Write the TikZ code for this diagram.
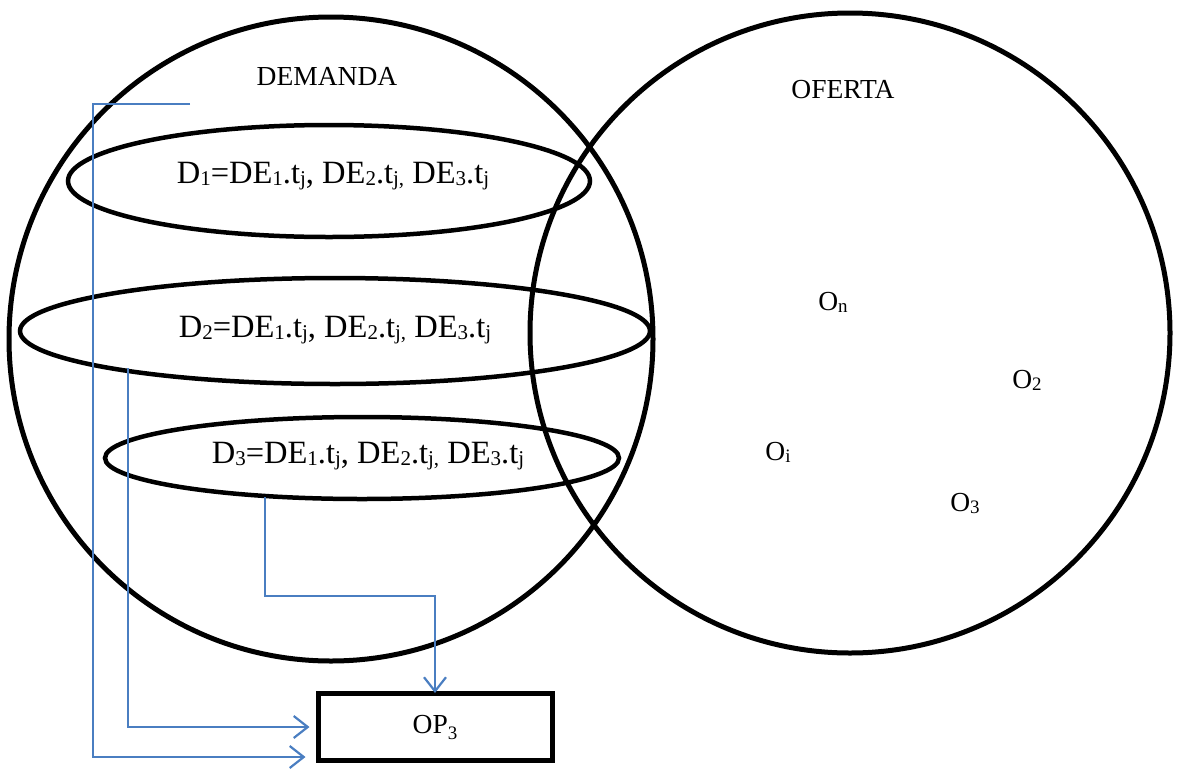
\documentclass[tikz,border=0pt]{standalone}
\usepackage{fontspec}
\setmainfont{Liberation Serif}
\usetikzlibrary{arrows.meta,shapes.geometric}
\definecolor{linkblue}{RGB}{74,126,193}
\tikzset{
  setring/.style={draw=black,line width=5pt},
  subset/.style={ellipse,draw=black,line width=4.5pt,inner sep=0pt},
  txt/.style={font=\fontsize{27.5}{30}\selectfont,inner sep=0pt},
  formula/.style={font=\fontsize{32.5}{35}\selectfont,inner sep=0pt},
  link/.style={draw=linkblue,line width=2.2pt,-{Straight Barb[length=14pt,width=22pt,line width=2.2pt]}},
  opbox/.style={draw=black,line width=5pt,minimum width=234pt,minimum height=67pt,inner sep=0pt}
}
% small indices just below the baseline
\newcommand{\lowidx}[1]{\raisebox{-2pt}{\fontsize{19}{19}\selectfont #1}}
\newcommand{\fidx}[1]{\raisebox{-2pt}{\fontsize{21}{21}\selectfont #1}}
\newcommand{\deepidx}[1]{\raisebox{-6pt}{\fontsize{19}{19}\selectfont #1}}
\newcommand{\demrow}[1]{D\fidx{#1}=DE\fidx{1}.t\fidx{j}, DE\fidx{2}.t\fidx{j,} DE\fidx{3}.t\fidx{j}}
\begin{document}
\begin{tikzpicture}[x=1pt,y=-1pt]
\useasboundingbox (0,0) rectangle (1178,769);
% the two sets
\draw[setring] (331,339) circle (322);
\draw[setring] (850,333) circle (320);
\node[txt] (dem) at (327,76) {DEMANDA};
\node[txt] (ofe) at (843,90) {OFERTA};
% demand segments
\node[subset,minimum width=522pt,minimum height=112pt] (d1) at (329,181) {};
\node[subset,minimum width=630pt,minimum height=106pt] (d2) at (335,331) {};
\node[subset,minimum width=514pt,minimum height=82pt] (d3) at (362,458) {};
\node[formula] (t1) at (333,176) {\demrow{1}};
\node[formula] (t2) at (335,330) {\demrow{2}};
\node[formula] (t3) at (368,456) {\demrow{3}};
% supply offers
\node[txt] (on) at (833,302) {O\lowidx{n}};
\node[txt] (o2) at (1027,380) {O\lowidx{2}};
\node[txt] (oi) at (778,452) {O\lowidx{i}};
\node[txt] (o3) at (965,503) {O\lowidx{3}};
% resulting option
\node[opbox,txt] (op) at (435,727) {OP\deepidx{3}};
% connectors
\coordinate (s1) at (190,104);
\coordinate (s2) at (128,368);
\coordinate (s3) at (265,497);
\draw[link] (s1) -- (93,104) -- (93,757) -- ([xshift=-10pt]op.west |- 0,757);
\draw[link] (s2) -- (128,727) -- ([xshift=-6pt]op.west);
\draw[link] (s3) -- (265,596) -- (op.north |- 0,596) -- ([yshift=-2pt]op.north);
\end{tikzpicture}
\end{document}
